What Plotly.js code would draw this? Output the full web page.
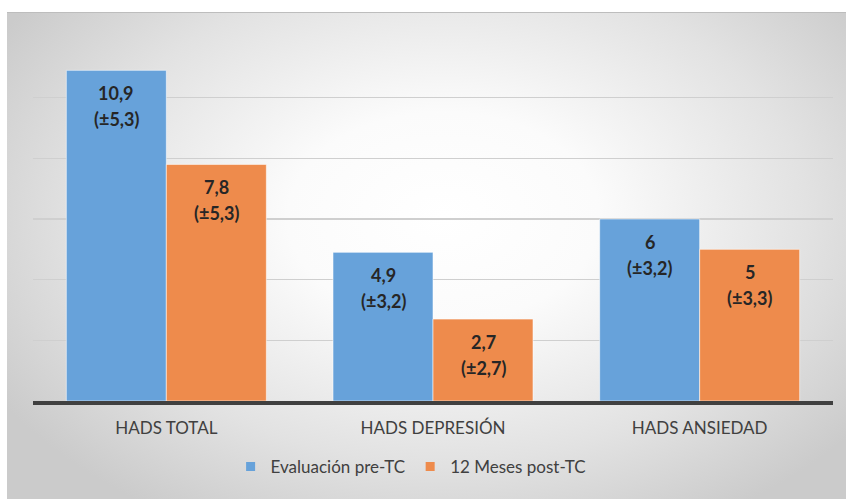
<!DOCTYPE html>
<html>
<head>
<meta charset="utf-8">
<script src="https://cdn.plot.ly/plotly-3.0.1.min.js"></script>
<style>
  html, body { margin: 0; padding: 0; background: #ffffff; }
  #frame {
    position: absolute; left: 7px; top: 12px; width: 839px; height: 487px;
    background: radial-gradient(ellipse 62% 72% at 52% 42%, #ffffff 0%, #fbfbfb 30%, #e2e2e2 70%, #cbcbcb 100%);
    border-top: 1px solid #bdbdbd;
    box-sizing: border-box;
  }
  #chart { position: absolute; left: 0; top: 0; width: 846px; height: 499px; }
</style>
</head>
<body>
<div id="frame"></div>
<div id="chart"></div>
<script>
// HADS scores: mean (± SD) before and 12 months after the intervention
const categories = ['HADS TOTAL', 'HADS DEPRESIÓN', 'HADS ANSIEDAD'];
const seriesNames = ['Evaluación pre-TC', '12 Meses post-TC'];
const preMean = [10.9, 4.9, 6];
const preSD = [5.3, 3.2, 3.2];
const postMean = [7.8, 2.7, 5];
const postSD = [5.3, 2.7, 3.3];

const colors = ['#67a2da', '#ee8b4c'];
const means = [preMean, postMean];
const sds = [preSD, postSD];

const fmt = v => String(v).replace('.', ',');

const bargap = 0.25;
const traces = means.map((vals, i) => ({
  type: 'bar',
  name: seriesNames[i],
  x: categories,
  y: vals,
  showlegend: false,
  marker: { color: colors[i], line: { color: 'rgba(255,255,255,0.55)', width: 1 } },
  hoverinfo: 'skip'
}));

// small square keys for the legend
seriesNames.forEach((name, i) => {
  traces.push({
    type: 'scatter', mode: 'markers', name: name,
    x: [null], y: [null],
    marker: { symbol: 'square', size: 9, color: colors[i] },
    hoverinfo: 'skip'
  });
});

// value and SD labels placed just under each bar top
const barW = (1 - bargap) / means.length;
const annotations = [];
means.forEach((vals, i) => {
  const off = (i - (means.length - 1) / 2) * barW;
  vals.forEach((v, j) => {
    const base = { xref: 'x', yref: 'y', x: j + off, y: v, showarrow: false,
      yanchor: 'middle', font: { family: 'Lato, sans-serif', size: 18, color: '#262626', weight: 'bold' } };
    annotations.push(Object.assign({}, base, { text: '<b>' + fmt(v) + '</b>', yshift: -23 }));
    annotations.push(Object.assign({}, base, { text: '<b>(±' + fmt(sds[i][j]) + ')</b>', yshift: -49 }));
  });
});

const layout = {
  width: 846, height: 499,
  margin: { l: 33, r: 13, t: 37, b: 98, pad: 0 },
  paper_bgcolor: 'rgba(0,0,0,0)',
  plot_bgcolor: 'rgba(0,0,0,0)',
  barmode: 'group',
  bargap: bargap,
  bargroupgap: 0,
  font: { family: 'Lato, sans-serif', color: '#404040' },
  xaxis: {
    type: 'category',
    showline: true, linecolor: '#404040', linewidth: 4,
    ticks: '', showgrid: false,
    tickfont: { size: 17, color: '#404040' },
    ticklabelstandoff: 9
  },
  yaxis: {
    range: [0, 12], dtick: 2,
    showticklabels: false, ticks: '',
    showgrid: true, gridcolor: '#cfcfcf', gridwidth: 1.5,
    zeroline: false, showline: false
  },
  showlegend: true,
  legend: {
    orientation: 'h', x: 0.472, xanchor: 'center', y: -0.181, yanchor: 'middle',
    font: { size: 17, color: '#404040' },
    itemwidth: 30,
    bgcolor: 'rgba(0,0,0,0)', traceorder: 'normal'
  },
  annotations: annotations
};

Plotly.newPlot('chart', traces, layout, { displayModeBar: false, staticPlot: true });
</script>
</body>
</html>
